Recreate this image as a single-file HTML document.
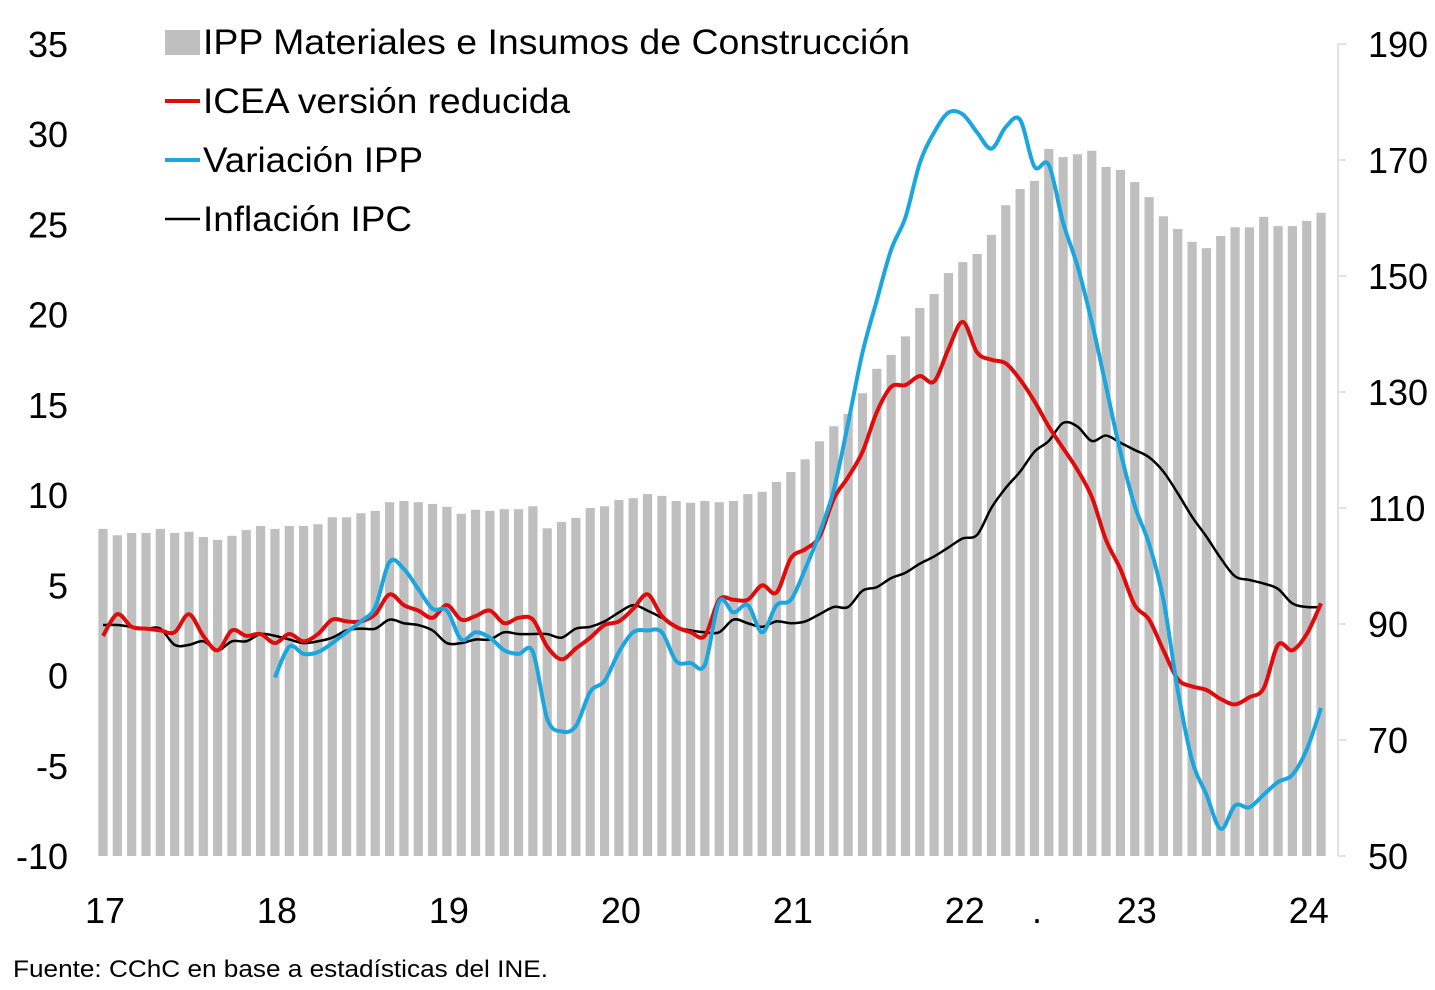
<!DOCTYPE html>
<html><head><meta charset="utf-8">
<style>
html,body{margin:0;padding:0;background:#fff;width:1435px;height:990px;overflow:hidden}
svg text{font-family:"Liberation Sans",sans-serif;fill:#000}
</style></head>
<body>
<svg id="chart" width="1435" height="990" viewBox="0 0 1435 990" xmlns="http://www.w3.org/2000/svg">
<g id="bars"></g>
<g id="lines"></g>
<g id="axes"></g>
<g>
  <rect x="165" y="30" width="35" height="25" fill="#bfbfbf"/>
  <text x="203" y="54" font-size="35" textLength="707" lengthAdjust="spacingAndGlyphs">IPP Materiales e Insumos de Construcción</text>
  <line x1="165" y1="101" x2="200" y2="101" stroke="#e00b0b" stroke-width="4"/>
  <text x="203" y="113" font-size="35" textLength="367" lengthAdjust="spacingAndGlyphs">ICEA versión reducida</text>
  <line x1="165" y1="160" x2="200" y2="160" stroke="#1ba6df" stroke-width="4"/>
  <text x="203" y="172" font-size="35" textLength="220" lengthAdjust="spacingAndGlyphs">Variación IPP</text>
  <line x1="165" y1="219" x2="200" y2="219" stroke="#000" stroke-width="2.5"/>
  <text x="203" y="231" font-size="35" textLength="209" lengthAdjust="spacingAndGlyphs">Inflación IPC</text>
</g>
<text x="13" y="977" font-size="24" textLength="535" lengthAdjust="spacingAndGlyphs">Fuente: CChC en base a estadísticas del INE.</text>
</svg>
<script>
const ippBars = [106.4,105.3,105.7,105.7,106.4,105.7,105.9,105.0,104.5,105.2,106.2,106.9,
106.4,106.9,106.9,107.2,108.4,108.4,109.1,109.5,111.0,111.2,111.0,110.7,
110.2,109.0,109.7,109.5,109.8,109.8,110.3,106.5,107.6,108.3,110.0,110.3,
111.4,111.7,112.4,112.1,111.2,110.9,111.2,111.0,111.2,112.4,112.8,114.5,
116.2,118.4,121.5,124.1,126.2,129.8,134.0,136.4,139.6,144.5,146.9,150.5,
152.4,153.8,157.1,162.2,165.0,166.4,171.9,170.5,171.0,171.6,168.8,168.3,
166.2,163.6,160.3,158.1,155.9,154.8,156.9,158.4,158.4,160.2,158.6,158.6,159.5,160.9];
const iceaValues = [2.2,3.4,2.7,2.6,2.5,2.4,3.4,2.2,1.4,2.5,2.2,2.3,
1.8,2.3,1.9,2.3,3.1,3.0,3.0,3.4,4.5,3.9,3.6,3.2,
3.9,3.1,3.3,3.6,2.9,3.2,3.1,1.6,0.9,1.5,2.1,2.8,
3.0,3.7,4.5,3.3,2.7,2.4,2.2,4.2,4.2,4.2,5.0,4.6,
6.5,7.0,7.7,9.8,11.0,12.4,14.6,16.0,16.1,16.6,16.3,18.1,
19.6,17.9,17.5,17.3,16.4,15.2,13.8,12.6,11.4,9.9,7.5,5.9,
3.9,3.1,1.4,-0.2,-0.6,-0.8,-1.3,-1.6,-1.2,-0.7,1.7,1.4,2.3,4.0];
const varIppStart = 12;
const varIppValues = [-0.1,1.6,1.2,1.3,1.8,2.4,3.0,3.8,6.3,5.9,4.8,3.7,
3.6,2.0,2.4,2.1,1.4,1.2,1.3,-2.4,-3.1,-2.8,-0.9,-0.3,
1.3,2.4,2.5,2.4,0.8,0.7,0.6,4.1,3.5,3.9,2.4,3.9,
4.2,5.9,7.9,10.3,14.0,17.9,20.8,23.6,25.4,28.4,30.1,31.2,
31.1,30.1,29.2,30.4,30.8,28.2,28.3,25.1,22.7,19.6,16.0,12.4,
9.4,7.3,4.2,-0.8,-4.7,-6.6,-8.5,-7.2,-7.3,-6.6,-5.9,-5.5,-4.1,-1.8];
const ipcValues = [2.8,2.8,2.7,2.6,2.6,1.7,1.7,1.9,1.4,1.9,1.9,2.3,
2.2,2.0,1.8,1.9,2.1,2.5,2.6,2.6,3.1,2.9,2.8,2.5,
1.8,1.8,2.0,2.0,2.4,2.3,2.3,2.3,2.1,2.6,2.7,3.0,
3.5,3.9,3.6,3.2,2.7,2.5,2.4,2.4,3.1,2.9,2.7,3.0,
2.9,3.0,3.4,3.8,3.8,4.7,4.9,5.4,5.7,6.2,6.6,7.1,
7.6,7.8,9.3,10.4,11.3,12.4,13.0,14.0,13.8,13.0,13.3,12.9,
12.5,12.1,11.3,10.1,8.8,7.7,6.5,5.5,5.3,5.1,4.8,4.0,3.8,3.8];
const leftTicks = [-10,-5,0,5,10,15,20,25,30,35];
const rightTicks = [50,70,90,110,130,150,170,190];
const yearLabels = ["17","18","19","20","21","22","23","24"];

const NS="http://www.w3.org/2000/svg";
const X0=103, DX=14.33, TOP=44, BOT=856;
const xAt=i=>X0+i*DX;
const yL=v=>BOT-(v+10)/45*(BOT-TOP);
const yR=v=>BOT-(v-50)/140*(BOT-TOP);
function mk(tag,attrs,parent){const e=document.createElementNS(NS,tag);for(const k in attrs)e.setAttribute(k,attrs[k]);parent.appendChild(e);return e;}

const bars=document.getElementById('bars');
ippBars.forEach((v,i)=>{
  const r=mk('rect',{x:xAt(i)-4.6,y:yR(v),width:9.2,height:BOT-yR(v),fill:'#bfbfbf'},bars);
  
  
});

function smooth(pts){
  let d=`M${pts[0][0]},${pts[0][1]}`;
  for(let i=0;i<pts.length-1;i++){
    const p0=pts[i-1]||pts[i],p1=pts[i],p2=pts[i+1],p3=pts[i+2]||p2;
    const c1=[p1[0]+(p2[0]-p0[0])/6,p1[1]+(p2[1]-p0[1])/6];
    const c2=[p2[0]-(p3[0]-p1[0])/6,p2[1]-(p3[1]-p1[1])/6];
    d+=` C${c1[0]},${c1[1]} ${c2[0]},${c2[1]} ${p2[0]},${p2[1]}`;
  }
  return d;
}
const lines=document.getElementById('lines');
const ipc=mk('path',{d:smooth(ipcValues.map((v,i)=>[xAt(i),yL(v)])),fill:'none',stroke:'#000',"stroke-width":2.5},lines);


const icea=mk('path',{d:smooth(iceaValues.map((v,i)=>[xAt(i),yL(v)])),fill:'none',stroke:'#e00b0b',"stroke-width":4},lines);


const vip=mk('path',{d:smooth(varIppValues.map((v,i)=>[xAt(i+varIppStart),yL(v)])),fill:'none',stroke:'#1ba6df',"stroke-width":4},lines);



const axes=document.getElementById('axes');
leftTicks.forEach(t=>{
  const tx=mk('text',{x:68,y:yL(t)+13,"font-size":36,"text-anchor":"end"},axes);
  tx.textContent=t;
  
  
});
const ra=mk('line',{x1:1338,y1:TOP,x2:1338,y2:BOT,stroke:'#d9d9d9',"stroke-width":1.5},axes);


rightTicks.forEach(t=>{
  const tk=mk('line',{x1:1338,y1:yR(t),x2:1346,y2:yR(t),stroke:'#d9d9d9',"stroke-width":1.5},axes);
  
  
  const tx=mk('text',{x:1368,y:yR(t)+13,"font-size":36},axes);
  tx.textContent=t;
  
  
});
yearLabels.forEach((l,i)=>{
  const tx=mk('text',{x:xAt(i*12)+2,y:923,"font-size":36,"text-anchor":"middle"},axes);
  tx.textContent=l;
  
  
});
const dot=mk('text',{x:1037,y:923,"font-size":36,"text-anchor":"middle"},axes);
dot.textContent='.';


</script>
</body></html>
